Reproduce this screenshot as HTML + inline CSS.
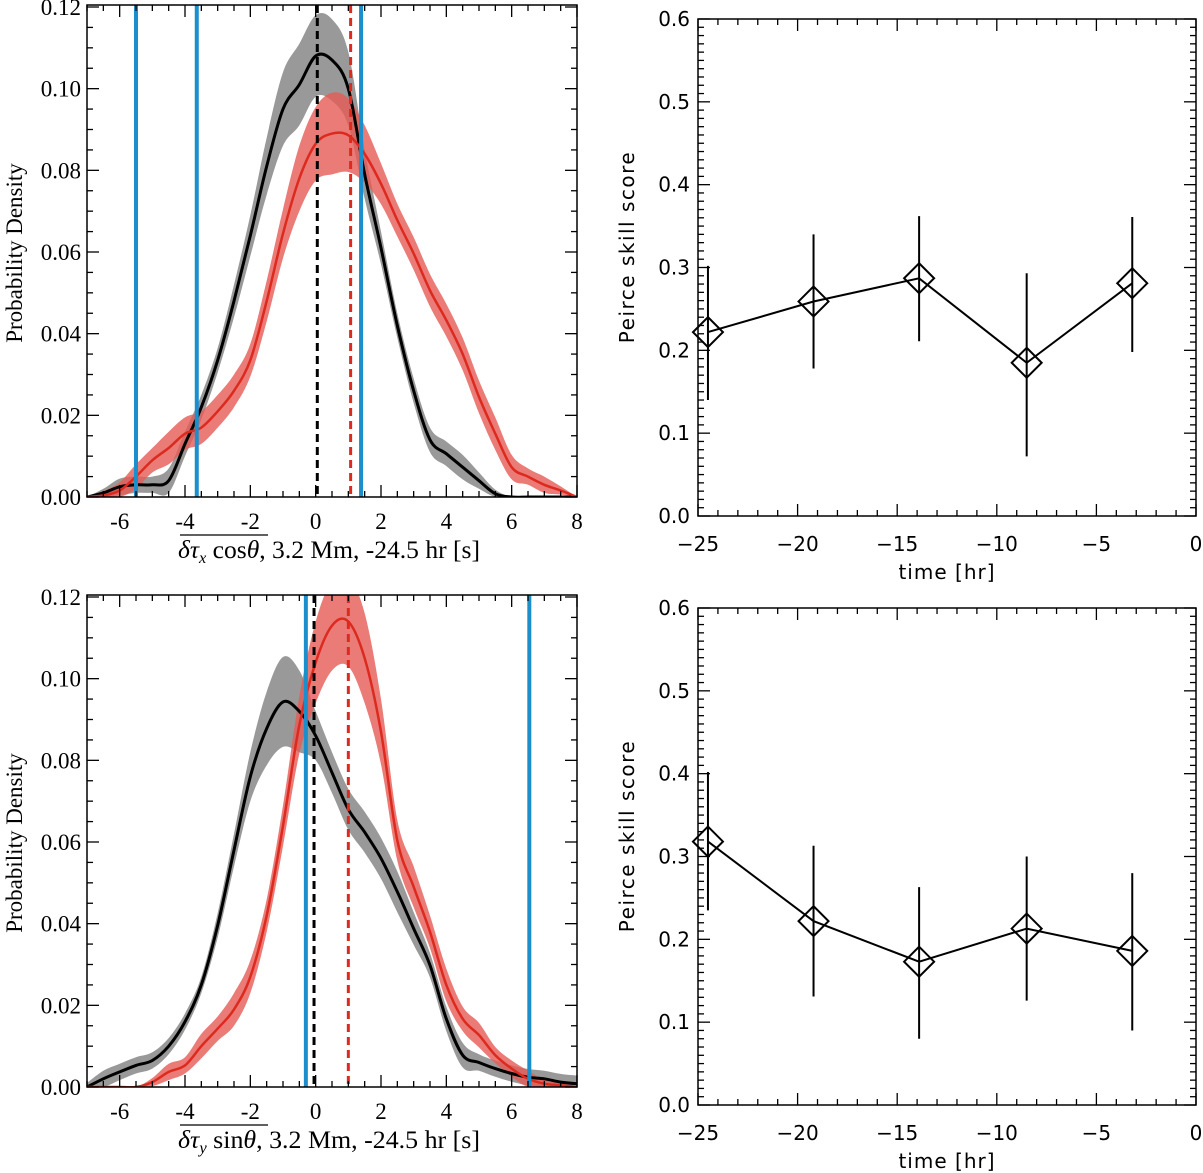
<!DOCTYPE html>
<html><head><meta charset="utf-8"><style>
html,body{margin:0;padding:0;background:#fff;}
svg{display:block;}
.serif{font-family:"Liberation Serif",serif;}
.sans{font-family:"DejaVu Sans","Liberation Sans",sans-serif;}
</style></head><body>
<svg id="fig" width="1203" height="1173" viewBox="0 0 1203 1173" xmlns="http://www.w3.org/2000/svg">
<defs>
<clipPath id="clipTL"><rect x="87" y="5" width="490" height="492"/></clipPath>
<clipPath id="clipBL"><rect x="87" y="595" width="490" height="492"/></clipPath>
</defs>
</svg>
<script>
// ---------- data: left distributions ----------
const gridX = [-7,-6.5,-6,-5.5,-5,-4.5,-4,-3.5,-3,-2.5,-2,-1.5,-1,-0.5,0,0.5,1,1.5,2,2.5,3,3.5,4,4.5,5,5.5,6,6.5,7,7.5,8];
const topBlackMean = [0,0.001,0.0025,0.003,0.003,0.004,0.013,0.022,0.0335,0.048,0.064,0.081,0.095,0.101,0.108,0.107,0.100,0.079,0.061,0.042,0.026,0.014,0.0106,0.0073,0.004,0.0008,0,0,0,0,0];
const topBlackErr  = [0,0.001,0.002,0.002,0.002,0.003,0.003,0.003,0.003,0.004,0.005,0.007,0.009,0.010,0.010,0.010,0.009,0.006,0.004,0.003,0.003,0.003,0.003,0.003,0.002,0.001,0,0,0,0,0];
const topRedMean = [0,0.0004,0.0016,0.005,0.009,0.012,0.0155,0.017,0.021,0.026,0.0335,0.048,0.0645,0.078,0.0865,0.089,0.0886,0.084,0.0767,0.0678,0.0596,0.0506,0.0433,0.035,0.0245,0.0155,0.0073,0.005,0.003,0.0016,0];
const topRedErr  = [0,0.001,0.002,0.003,0.003,0.004,0.004,0.004,0.004,0.004,0.004,0.005,0.006,0.008,0.009,0.010,0.009,0.007,0.005,0.004,0.004,0.004,0.004,0.004,0.004,0.004,0.003,0.002,0.002,0.001,0];
const botBlackMean = [0,0.002,0.0037,0.0053,0.0065,0.010,0.016,0.025,0.0396,0.058,0.076,0.0878,0.0943,0.092,0.086,0.077,0.068,0.0624,0.056,0.0478,0.0388,0.0298,0.0167,0.0078,0.006,0.0045,0.0033,0.0024,0.002,0.0012,0.0008];
const botBlackErr  = [0.001,0.002,0.002,0.002,0.002,0.002,0.002,0.002,0.003,0.004,0.006,0.009,0.011,0.010,0.006,0.005,0.005,0.005,0.005,0.005,0.004,0.003,0.003,0.003,0.002,0.002,0.002,0.002,0.002,0.002,0.002];
const botRedMean = [0,0,0,0,0.0012,0.0037,0.0053,0.010,0.0143,0.019,0.027,0.042,0.064,0.0886,0.104,0.113,0.114,0.105,0.087,0.0604,0.049,0.038,0.025,0.0167,0.0127,0.0078,0.0045,0.002,0.0008,0.0004,0];
const botRedErr  = [0,0,0,0,0.001,0.002,0.002,0.003,0.003,0.004,0.004,0.004,0.005,0.007,0.010,0.011,0.011,0.011,0.008,0.005,0.005,0.004,0.004,0.003,0.003,0.002,0.002,0.002,0.001,0.001,0];
const topBlueLines = [-5.5,-3.64,1.39];
const topBlackDash = 0.05, topRedDash = 1.07;
const botBlueLines = [-0.3,6.54];
const botBlackDash = -0.05, botRedDash = 1.0;
const leftYTicks = ["0.00","0.02","0.04","0.06","0.08","0.10","0.12"];
const leftXTicks = ["-6","-4","-2","0","2","4","6","8"];
// ---------- data: right skill scores ----------
const times = [-24.5,-19.2,-13.9,-8.5,-3.2];
const topScore = [0.222,0.259,0.287,0.185,0.281];
const topHi = [0.302,0.340,0.362,0.293,0.361];
const topLo = [0.140,0.178,0.211,0.072,0.198];
const botScore = [0.318,0.222,0.173,0.213,0.186];
const botHi = [0.402,0.313,0.263,0.300,0.280];
const botLo = [0.235,0.131,0.080,0.126,0.090];
const rightYTicks = ["0.0","0.1","0.2","0.3","0.4","0.5","0.6"];
const rightXTicks = ["\u221225","\u221220","\u221215","\u221210","\u22125","0"];

const NS="http://www.w3.org/2000/svg";
const svg=document.getElementById('fig');
function mk(tag,attrs,parent){const e=document.createElementNS(NS,tag);for(const k in attrs)e.setAttribute(k,attrs[k]);(parent||svg).appendChild(e);return e;}
function spline(pts,start){
  let d=(start?'M':'L')+pts[0][0].toFixed(1)+','+pts[0][1].toFixed(1);
  for(let i=0;i<pts.length-1;i++){
    const p0=pts[Math.max(0,i-1)],p1=pts[i],p2=pts[i+1],p3=pts[Math.min(pts.length-1,i+2)];
    const c1=[p1[0]+(p2[0]-p0[0])/6,p1[1]+(p2[1]-p0[1])/6];
    const c2=[p2[0]-(p3[0]-p1[0])/6,p2[1]-(p3[1]-p1[1])/6];
    d+='C'+c1[0].toFixed(1)+','+c1[1].toFixed(1)+' '+c2[0].toFixed(1)+','+c2[1].toFixed(1)+' '+p2[0].toFixed(1)+','+p2[1].toFixed(1);
  }
  return d;
}

function leftPanel(top,bm,be,rm,re,blues,bd,rd,clip,tag,xlabelMath){
  const x0=87,x1=577,y0=top,y1=top+492;
  const sx=v=>x0+(v+7)/15*(x1-x0);
  const sy=v=>y1-v/0.12*(y1-y0-2);
  const g=mk('g',{});
  
  
  const band=(m,e,fill,name)=>{
    const up=gridX.map((x,i)=>[sx(x),sy(m[i]+e[i])]);
    const lo=gridX.map((x,i)=>[sx(x),sy(Math.max(0,m[i]-e[i]))]).reverse();
    const p=mk('path',{d:spline(up,true)+spline(lo,false)+'Z',fill:fill,'clip-path':'url(#'+clip+')'},g);
    
    
  };
  const line=(m,col,w,name)=>{
    const p=mk('path',{d:spline(gridX.map((x,i)=>[sx(x),sy(m[i])]),true),fill:'none',stroke:col,'stroke-width':w,'stroke-linejoin':'round','clip-path':'url(#'+clip+')'},g);
    
    
  };
  band(bm,be,'#999999','black-uncertainty-band');
  band(rm,re,'rgba(230,90,85,0.8)','red-uncertainty-band');
  line(bm,'#000',3,'black-mean-curve');
  line(rm,'#dd2a1e',2.5,'red-mean-curve');
  blues.forEach(b=>{const l=mk('line',{x1:sx(b),x2:sx(b),y1:y0,y2:y1,stroke:'#1a8fcc','stroke-width':4},g);
    });
  let l=mk('line',{x1:sx(bd),x2:sx(bd),y1:y0,y2:y1,stroke:'#000','stroke-width':3,'stroke-dasharray':'8,5'},g);
  
  l=mk('line',{x1:sx(rd),x2:sx(rd),y1:y0,y2:y1,stroke:'#dd2a1e','stroke-width':3,'stroke-dasharray':'8,5'},g);
  
  const f=mk('rect',{x:x0,y:y0,width:x1-x0,height:y1-y0,fill:'none',stroke:'#000','stroke-width':1.5},g);
  
  for(let v=-7;v<=8.001;v+=0.5){const maj=Math.abs(v%2)<1e-6;const L=maj?12:6;
    mk('line',{x1:sx(v),x2:sx(v),y1:y1,y2:y1-L,stroke:'#000','stroke-width':1.3},g);
    mk('line',{x1:sx(v),x2:sx(v),y1:y0,y2:y0+L,stroke:'#000','stroke-width':1.3},g);}
  for(let k=0;k<=24;k++){const v=k*0.005;const maj=k%4===0;const L=maj?12:6;
    mk('line',{x1:x0,x2:x0+L,y1:sy(v),y2:sy(v),stroke:'#000','stroke-width':1.3},g);
    mk('line',{x1:x1,x2:x1-L,y1:sy(v),y2:sy(v),stroke:'#000','stroke-width':1.3},g);}
  leftXTicks.forEach(t=>{const v=parseFloat(t);const e=mk('text',{x:sx(v),y:y1+32,'text-anchor':'middle','font-size':23,class:'serif'},g);e.textContent=t;
    });
  leftYTicks.forEach(t=>{const v=parseFloat(t);const e=mk('text',{x:x0-6,y:sy(v)+8,'text-anchor':'end','font-size':23,class:'serif'},g);e.textContent=t;
    });
  let e=mk('text',{x:0,y:0,transform:'translate(22,'+(y0+248)+') rotate(-90)','text-anchor':'middle','font-size':23,class:'serif'},g);
  e.textContent='Probability Density';
  e=mk('text',{x:178,y:y1+61,'font-size':25,class:'serif',textLength:302,lengthAdjust:'spacingAndGlyphs'},g);
  
  e.innerHTML=xlabelMath;
  mk('line',{x1:180,x2:268,y1:y1+38,y2:y1+38,stroke:'#000','stroke-width':1.3},g);
}
leftPanel(5,topBlackMean,topBlackErr,topRedMean,topRedErr,topBlueLines,topBlackDash,topRedDash,'clipTL','top',
 '<tspan font-style="italic">δτ</tspan><tspan font-style="italic" font-size="16" dy="5">x</tspan><tspan dy="-5"> cos</tspan><tspan font-style="italic">θ</tspan>, 3.2 Mm, -24.5 hr [s]');
leftPanel(595,botBlackMean,botBlackErr,botRedMean,botRedErr,botBlueLines,botBlackDash,botRedDash,'clipBL','bottom',
 '<tspan font-style="italic">δτ</tspan><tspan font-style="italic" font-size="16" dy="5">y</tspan><tspan dy="-5"> sin</tspan><tspan font-style="italic">θ</tspan>, 3.2 Mm, -24.5 hr [s]');

function rightPanel(top,score,hi,lo,tag){
  const x0=698,x1=1196,y0=top,y1=top+497;
  const sx=v=>x0+(v+25)/25*(x1-x0);
  const sy=v=>y1-v/0.6*(y1-y0);
  const g=mk('g',{});
  
  
  const f=mk('rect',{x:x0,y:y0,width:x1-x0,height:y1-y0,fill:'none',stroke:'#000','stroke-width':1.5},g);
  
  for(let v=-25;v<=0;v++){const L=(v%5===0)?12:6;
    mk('line',{x1:sx(v),x2:sx(v),y1:y1,y2:y1-L,stroke:'#000','stroke-width':1.3},g);
    mk('line',{x1:sx(v),x2:sx(v),y1:y0,y2:y0+L,stroke:'#000','stroke-width':1.3},g);}
  for(let k=0;k<=60;k++){const v=k*0.01;const L=(k%10===0)?12:6;
    mk('line',{x1:x0,x2:x0+L,y1:sy(v),y2:sy(v),stroke:'#000','stroke-width':1.3},g);
    mk('line',{x1:x1,x2:x1-L,y1:sy(v),y2:sy(v),stroke:'#000','stroke-width':1.3},g);}
  rightXTicks.forEach(t=>{const v=parseFloat(t.replace('\u2212','-'));const e=mk('text',{x:sx(v),y:y1+35,'text-anchor':'middle','font-size':20,class:'sans'},g);e.textContent=t;
    });
  rightYTicks.forEach(t=>{const v=parseFloat(t);const e=mk('text',{x:x0-8,y:sy(v)+7,'text-anchor':'end','font-size':20,class:'sans'},g);e.textContent=t;
    });
  let e=mk('text',{x:0,y:0,transform:'translate(634,'+(y0+228)+') rotate(-90)','text-anchor':'middle','font-size':20,'letter-spacing':'1.5',class:'sans'},g);
  e.textContent='Peirce skill score';
  e=mk('text',{x:(x0+x1)/2,y:y1+63,'text-anchor':'middle','font-size':20,'letter-spacing':'1',class:'sans'},g);
  e.textContent='time [hr]';
  const p=mk('path',{d:'M'+times.map((t,i)=>sx(t).toFixed(1)+','+sy(score[i]).toFixed(1)).join('L'),fill:'none',stroke:'#000','stroke-width':2},g);
  
  times.forEach((t,i)=>{
    const eb=mk('line',{x1:sx(t),x2:sx(t),y1:sy(hi[i]),y2:sy(lo[i]),stroke:'#000','stroke-width':2},g);
    
    const cx=sx(t),cy=sy(score[i]),r=15;
    const dm=mk('path',{d:`M${cx},${cy-r}L${cx+r},${cy}L${cx},${cy+r}L${cx-r},${cy}Z`,fill:'none',stroke:'#000','stroke-width':2},g);
    
  });
}
rightPanel(19,topScore,topHi,topLo,'top');
rightPanel(608,botScore,botHi,botLo,'bottom');
</script>
</body></html>
